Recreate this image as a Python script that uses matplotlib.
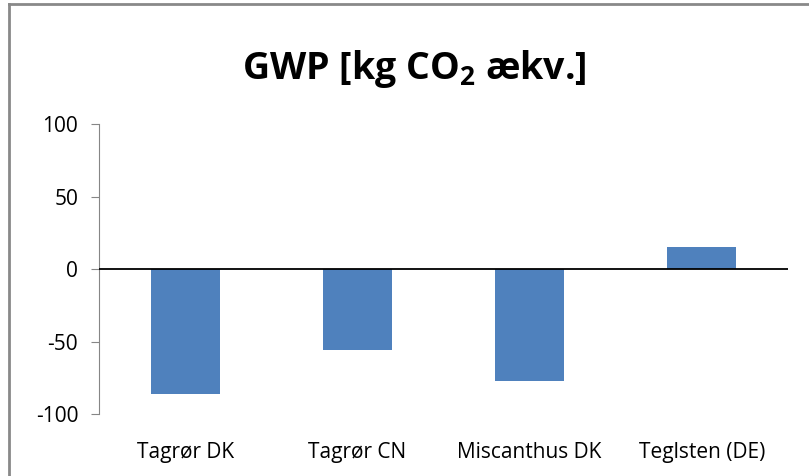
import matplotlib
matplotlib.use("Agg")
import matplotlib.pyplot as plt
from matplotlib.lines import Line2D

categories = ["Tagrør DK", "Tagrør CN", "Miscanthus DK", "Teglsten (DE)"]
gwp = [-86, -56, -77, 15]

plt.rcParams["font.family"] = ["Open Sans", "DejaVu Sans"]
plt.rcParams["mathtext.fontset"] = "custom"
plt.rcParams["mathtext.rm"] = "Open Sans:bold"
plt.rcParams["mathtext.bf"] = "Open Sans:bold"
plt.rcParams["axes.unicode_minus"] = False

W, H = 809, 476
fig = plt.figure(figsize=(W / 100, H / 100), dpi=100)
ax = fig.add_axes([99 / W, 62 / H, (788 - 99) / W, 290 / H])

x = list(range(len(categories)))
ax.bar(x, gwp, width=0.4, color="#4F81BD", zorder=2)
ax.axhline(0, color="black", lw=1.3, zorder=3)

ax.set_xlim(-0.5, len(categories) - 0.5)
ax.set_ylim(-100, 100)
ax.set_yticks([-100, -50, 0, 50, 100])
ax.set_xticks(x)
ax.set_xticklabels(categories)

for s in ["top", "right", "bottom"]:
    ax.spines[s].set_visible(False)
ax.spines["left"].set_color("#868686")
ax.tick_params(axis="y", length=6, color="#868686", labelsize=15, pad=9)
ax.tick_params(axis="x", length=0, labelsize=15, pad=20)

# title with subscript
fig.text(414 / W, 1 - 69 / H, r"GWP [kg CO$_2$ ækv.]", ha="center", va="center",
         fontsize=27, fontweight="bold")

# chart border (Excel style), only top and left edges visible
fig.lines.append(Line2D([8.5 / W, 1], [1 - 3.5 / H] * 2, transform=fig.transFigure,
                        color="#898989", lw=2))
fig.lines.append(Line2D([8.5 / W] * 2, [0, 1 - 3.5 / H], transform=fig.transFigure,
                        color="#898989", lw=2))

fig.savefig("out.png", dpi=100)
